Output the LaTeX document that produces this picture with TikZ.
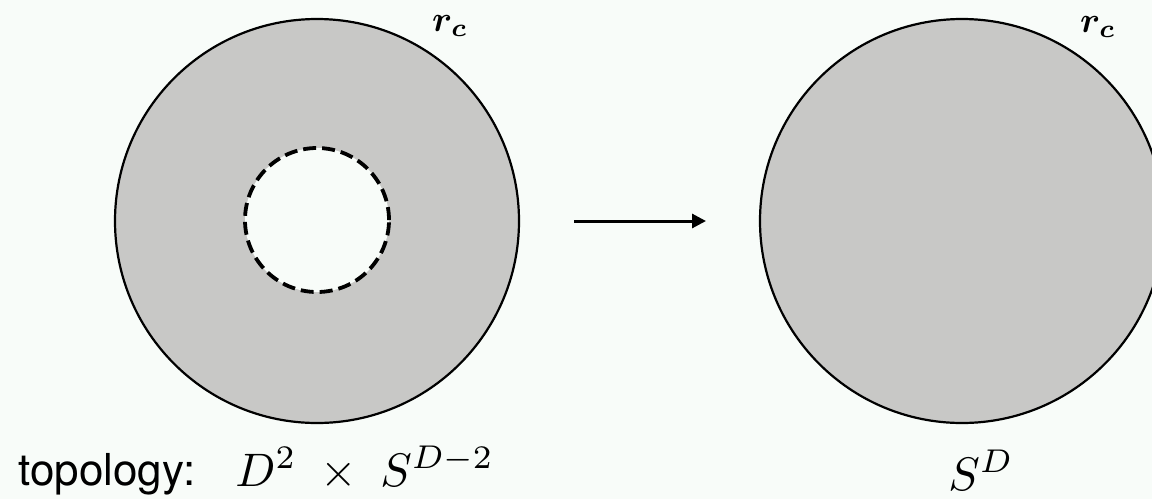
\documentclass[tikz,border=0pt]{standalone}
\usepackage[no-math]{fontspec}
\usepackage{bm}
\usetikzlibrary{arrows.meta}
\newfontfamily\labelfont{TeX Gyre Heros}
\definecolor{bgcol}{RGB}{248,252,249}
\definecolor{diskgray}{RGB}{200,200,198}
\newcommand{\bigmath}[2]{\scalebox{#1}{$#2$}}
\tikzset{
  disk/.style={circle, draw=black, line width=1.1pt, fill=diskgray,
    minimum size=202pt, inner sep=0pt, outer sep=0pt},
  hole/.style={circle, draw=black, line width=1.9pt, dash pattern=on 6.5pt off 3pt,
    fill=bgcol, minimum size=72pt, inner sep=0pt, outer sep=0pt},
  maparrow/.style={line width=1.5pt, -{Triangle[length=7pt,width=7pt]}},
  radlabel/.style={inner sep=0pt},
  toplabel/.style={anchor=base west, inner sep=0pt}
}
\begin{document}
\begin{tikzpicture}[x=0.5pt, y=-0.5pt]
    % 背景
    \fill[bgcol] (0,0) rectangle (1152,499);
    \useasboundingbox (0,0) rectangle (1152,499);
    \clip (0,0) rectangle (1152,499);

    % 环形区域
    \node[disk] (annulus) at (317,221) {};
    \node[hole] (core) at (317,220) {};
    \node[radlabel] (rcleft) at (450,26) {\bigmath{1.8}{\bm{r_c}}};

    % 球
    \node[disk] (ball) at (962,221) {};
    \node[radlabel] (rcright) at (1098,27) {\bigmath{1.8}{\bm{r_c}}};

    % 映射
    \draw[maparrow, shorten <=27.5pt, shorten >=27pt] (annulus.east) -- (ball.west);

    % 拓扑
    \node[toplabel, font=\labelfont\fontsize{22}{26}\selectfont] (topo) at (18,485) {topology:};
    \node[toplabel] (annlabel) at (235,486) {\bigmath{2.35}{D^2 \;\times\; S^{D-2}}};
    \node[toplabel] (balllabel) at (948,490) {\bigmath{2.35}{S^D}};
\end{tikzpicture}
\end{document}
